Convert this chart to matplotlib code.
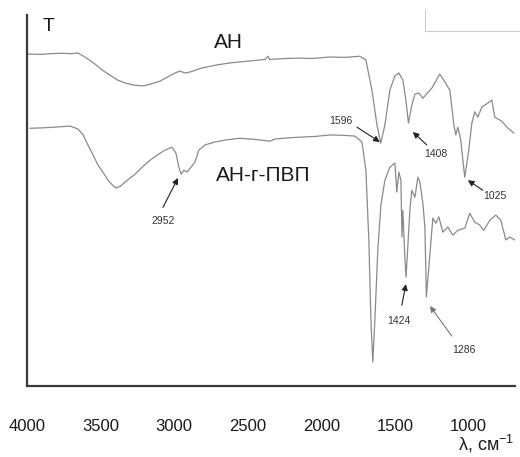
import matplotlib
matplotlib.use("Agg")
import matplotlib.pyplot as plt
from matplotlib.lines import Line2D

plt.rcParams['font.family'] = ['Liberation Sans', 'DejaVu Sans']
plt.rcParams['mathtext.fontset'] = 'custom'
plt.rcParams['mathtext.rm'] = 'Liberation Sans'
plt.rcParams['mathtext.default'] = 'rm'

# спектр АН (верхняя кривая)
wn_ah = [3990, 3900, 3844, 3760, 3700, 3654, 3620, 3580, 3538, 3490, 3436, 3385,
         3334, 3270, 3212, 3160, 3097, 3040, 2995, 2961, 2935, 2920, 2880, 2825,
         2720, 2621, 2520, 2417, 2380, 2363, 2350, 2336, 2240, 2145, 2060, 1942,
         1840, 1738, 1697, 1656, 1622, 1596, 1568,
         1534, 1500, 1473, 1446, 1425, 1408, 1385, 1364, 1337, 1310, 1249, 1195,
         1168, 1147, 1127, 1113, 1099, 1086, 1072, 1052, 1038, 1025, 998, 977,
         957, 936, 909, 889, 868, 841, 821, 800, 773, 739, 692]
t_ah = [89.5, 89.4, 89.6, 89.7, 89.6, 89.8, 89.0, 88.0, 86.8, 85.2, 83.8, 82.5,
        81.7, 81.1, 80.9, 81.4, 82.2, 83.4, 84.4, 84.9, 84.5, 84.4, 84.8, 85.6,
        86.5, 87.1, 87.5, 87.9, 88.1, 88.9, 88.0, 88.1, 88.3, 88.4, 88.3, 88.7,
        88.6, 88.9, 87.9, 79.8, 70.4, 65.5, 70.4,
        79.8, 83.6, 84.4, 82.5, 77.1, 70.9, 75.7, 78.7, 79.0, 77.6, 80.3, 84.1,
        82.5, 81.1, 79.8, 75.2, 70.4, 67.7, 69.8, 66.3, 60.9, 56.3, 63.6, 70.9,
        73.9, 72.5, 75.2, 75.7, 76.3, 77.1, 72.5, 72.0, 71.4, 69.8, 68.2]

# спектр АН-г-ПВП (нижняя кривая)
wn_pvp = [3980, 3900, 3810, 3708, 3654, 3620, 3586, 3550, 3518, 3480, 3450, 3420,
          3395, 3365, 3334, 3300, 3266, 3215, 3164, 3110, 3063,
          3015, 2988, 2967, 2952, 2934, 2913, 2886, 2859, 2832, 2791, 2723, 2640,
          2553, 2450, 2349, 2315, 2230, 2145, 2040, 1942, 1850, 1772, 1724, 1697,
          1677, 1663, 1650, 1636, 1616,
          1595, 1568, 1534, 1500, 1487, 1473, 1459, 1452, 1446, 1432, 1424, 1398,
          1385, 1364, 1344, 1330, 1310, 1296, 1286, 1256, 1242, 1222, 1201, 1174,
          1140, 1106, 1072, 1025, 991, 957, 923, 896, 855, 814, 780, 746, 719, 685]
t_pvp = [69.5, 69.6, 69.8, 70.1, 69.3, 67.8, 65.0, 62.2, 59.6, 57.4, 55.5, 54.2,
         53.4, 53.9, 55.0, 56.1, 57.1, 59.1, 60.9, 62.4, 63.6,
         64.4, 62.8, 58.8, 57.1, 58.2, 57.7, 59.0, 60.4, 63.6, 65.0, 65.8, 66.4,
         66.8, 66.5, 66.0, 66.6, 66.9, 67.1, 67.3, 67.7, 67.6, 67.4, 65.8, 58.2,
         39.4, 17.8, 6.5, 17.8, 36.7,
         48.8, 55.5, 59.0, 60.1, 52.3, 57.7, 55.5, 40.2, 47.4, 34.5, 29.4, 47.4,
         52.8, 50.9, 56.3, 55.0, 49.3, 42.9, 24.0, 38.5, 45.3, 43.9, 45.6, 41.5,
         42.9, 40.7, 42.0, 42.6, 46.6, 44.2, 43.4, 42.0, 44.7, 46.1, 44.7, 39.4,
         40.2, 39.4]

xticks = [4000, 3500, 3000, 2500, 2000, 1500, 1000]

# подписи пиков: текст, (острие стрелки), (хвост), (позиция текста)
peak_labels = ['1596', '1408', '1025', '2952', '1424', '1286']
peak_head = [(1602, 65.8), (1378, 68.5), (1004, 55.5), (2974, 56.1), (1425, 27.5), (1262, 21.6)]
peak_tail = [(1758, 69.8), (1283, 65.0), (902, 52.8), (3076, 48.2), (1453, 21.8), (1113, 13.5)]
peak_text = [(1867, 71.4), (1222, 62.5), (821, 51.2), (3076, 44.5), (1473, 17.5), (1032, 9.7)]

fig = plt.figure(figsize=(5.2, 4.57), dpi=100)
ax = fig.add_axes([0.052, 0.155, 0.938, 0.812])

ax.plot(wn_ah, t_ah, color='#8a8a8a', lw=0.9)
ax.plot(wn_pvp, t_pvp, color='#8a8a8a', lw=0.9)

ax.set_xlim(4000, 685)
ax.set_ylim(0, 100)
ax.set_xticks(xticks)
ax.set_xticklabels([str(v) for v in xticks])
ax.set_yticks([])
ax.tick_params(axis='x', length=0, pad=24, labelsize=12, colors='#1a1a1a')
for s in ['top', 'right']:
    ax.spines[s].set_visible(False)
for s in ['left', 'bottom']:
    ax.spines[s].set_linewidth(1.6)
    ax.spines[s].set_color('#3a3a3a')

for lab, h, t, p in zip(peak_labels, peak_head, peak_tail, peak_text):
    c = '#777777' if lab == '1286' else '#222222'
    ax.annotate('', xy=h, xytext=t,
                arrowprops=dict(arrowstyle='-|>', color=c, lw=0.8,
                                mutation_scale=9, shrinkA=0, shrinkB=0))
    ax.text(p[0], p[1], lab, fontsize=7.5, color='#333333', ha='center', va='center')

ax.text(3857, 96.8, 'T', fontsize=14, ha='center', va='center', color='#1a1a1a')
ax.text(2628, 92.7, 'АН', fontsize=15, ha='center', va='center', color='#1a1a1a')
ax.text(2397, 56.9, 'АН-г-ПВП', fontsize=15, ha='center', va='center', color='#1a1a1a')

fig.text(0.99, 0.028, 'λ, см$^{-1}$', fontsize=13, ha='right', va='center', color='#1a1a1a')

# рамка в правом верхнем углу
fig.add_artist(Line2D([425 / 520, 425 / 520], [1 - 10 / 457, 1 - 31 / 457], color='#cccccc', lw=0.8))
fig.add_artist(Line2D([425 / 520, 1.0], [1 - 31 / 457, 1 - 31 / 457], color='#cccccc', lw=0.8))

fig.savefig('out.png', dpi=100)
